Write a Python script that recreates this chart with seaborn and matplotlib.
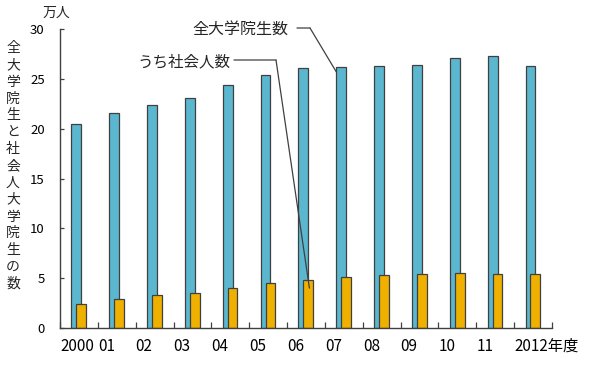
import matplotlib
matplotlib.use("Agg")
import matplotlib.pyplot as plt
import seaborn as sns
import numpy as np
import pandas as pd

years = ["2000", "01", "02", "03", "04", "05", "06", "07", "08", "09", "10", "11", "2012年度"]
total_students = [20.5, 21.6, 22.4, 23.1, 24.4, 25.4, 26.1, 26.2, 26.3, 26.4, 27.1, 27.3, 26.3]
working_adults = [2.4, 2.9, 3.3, 3.5, 4.0, 4.5, 4.8, 5.1, 5.3, 5.4, 5.5, 5.4, 5.4]
yticks = [0, 5, 10, 15, 20, 25, 30]

sns.set_theme(style="white")
plt.rcParams['font.family'] = ['Noto Sans CJK JP', 'DejaVu Sans']

BLUE = "#5BB7D0"
ORANGE = "#F0B000"
EDGE = "#404040"

fig = plt.figure(figsize=(6.0, 3.71), dpi=100)
ax = fig.add_axes([60/600, 1-328/371, 492/600, 299/371])

idx = np.arange(len(years))
df = pd.DataFrame({"pos": idx, "total": total_students, "adult": working_adults})

sns.barplot(x=df["pos"] - 0.07, y=df["total"], native_scale=True, width=0.26,
            color=BLUE, edgecolor=EDGE, linewidth=0.9, saturation=1, ax=ax)
sns.barplot(x=df["pos"] + 0.06, y=df["adult"], native_scale=True, width=0.26,
            color=ORANGE, edgecolor=EDGE, linewidth=0.9, saturation=1, ax=ax)

ax.set_xlim(-0.5, len(years) - 0.5)
ax.set_ylim(0, 30)
ax.set_xlabel("")
ax.set_ylabel("")

for s in ["top", "right"]:
    ax.spines[s].set_visible(False)
for s in ["left", "bottom"]:
    ax.spines[s].set_color(EDGE)
    ax.spines[s].set_linewidth(1.0)

ax.set_yticks(yticks)
ax.set_yticklabels([str(v) for v in yticks], fontsize=9.5, color="black")
ax.tick_params(axis="y", direction="in", length=3, width=0.9, color=EDGE, pad=11, left=True)

bounds = list(idx - 0.5) + [len(years) - 0.5]
ax.set_xticks(bounds)
ax.set_xticklabels(years + [""], fontsize=11, color="black", ha="left")
ax.tick_params(axis="x", direction="in", length=4, width=0.9, color=EDGE, pad=7, bottom=True)

# unit label
fig.text(56/600, 1-13/371, "万人", ha="center", va="center", fontsize=10)

# vertical y label
ylabel = "全大学院生と社会人大学院生の数"
fig.text(13/600, 1-166/371, "\n".join(ylabel), ha="center", va="center",
         fontsize=10, linespacing=1.26)

# annotations
def px(x, y):
    return (x, 371 - y)

ax.annotate("全大学院生数", xy=px(192, 29), xycoords="figure pixels",
            ha="left", va="center", fontsize=11.5)
ax.annotate("", xy=px(310, 28), xycoords="figure pixels",
            xytext=px(297, 28), textcoords="figure pixels",
            arrowprops=dict(arrowstyle="-", color=EDGE, lw=0.9, shrinkA=0, shrinkB=0))
ax.annotate("", xy=(7 - 0.2, 25.7), xycoords="data",
            xytext=px(310, 28), textcoords="figure pixels",
            arrowprops=dict(arrowstyle="-", color=EDGE, lw=0.9, shrinkA=0, shrinkB=0))

ax.annotate("うち社会人数", xy=px(137, 62), xycoords="figure pixels",
            ha="left", va="center", fontsize=11.2)
ax.annotate("", xy=px(276, 60), xycoords="figure pixels",
            xytext=px(234, 60), textcoords="figure pixels",
            arrowprops=dict(arrowstyle="-", color=EDGE, lw=0.9, shrinkA=0, shrinkB=0))
ax.annotate("", xy=(6.09, 4.0), xycoords="data",
            xytext=px(276, 60), textcoords="figure pixels",
            arrowprops=dict(arrowstyle="-", color=EDGE, lw=0.9, shrinkA=0, shrinkB=0))

fig.savefig("out.png", dpi=100, facecolor="white")
